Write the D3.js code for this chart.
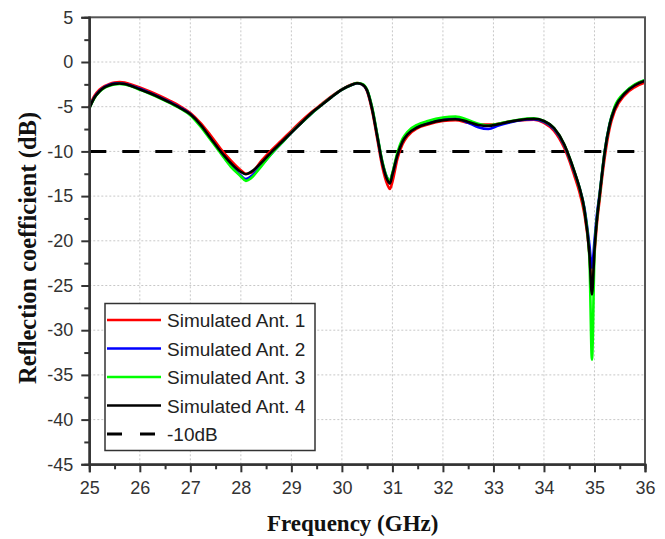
<!DOCTYPE html>
<html>
<head>
<meta charset="utf-8">
<script src="https://cdn.jsdelivr.net/npm/d3@7"></script>
<style>
  body { margin: 0; background: #fff; }
  svg { display: block; }
</style>
</head>
<body>
<svg id="chart" width="665" height="539"></svg>
<script>
// frequency points (GHz)
var freqs = [25.0,25.1,25.2,25.3,25.4,25.5,25.6,25.7,25.8,
  26.0,26.2,26.4,26.6,26.8,27.0,27.2,27.4,27.6,27.8,
  28.0,28.1,28.2,
  28.4,28.6,28.8,29.0,29.2,29.4,29.6,29.8,30.0,30.2,
  30.3,30.4,30.5,30.6,30.7,30.8,30.9,30.95,31.0,
  31.1,31.2,31.3,31.5,31.7,32.0,32.25,32.5,32.7,32.9,
  33.1,33.3,33.5,33.8,34.0,34.2,34.4,34.5,34.6,34.7,
  34.8,34.9,34.95,35.0,35.05,35.1,35.15,35.2,35.3,35.4,
  35.6,35.8,36.0];

var ant1 = [-5.0,-3.8,-3.1,-2.7,-2.45,-2.3,-2.25,-2.3,-2.45,
  -2.85,-3.3,-3.8,-4.35,-4.95,-5.7,-6.8,-8.2,-9.7,-11.0,
  -12.1,-12.5,-12.4,
  -11.1,-9.9,-8.8,-7.7,-6.6,-5.6,-4.7,-3.8,-3.05,-2.5,
  -2.35,-2.5,-3.3,-5.5,-8.6,-11.7,-13.7,-14.2,-13.4,
  -10.8,-9.2,-8.3,-7.4,-7.0,-6.6,-6.5,-6.8,-7.0,-7.0,
  -6.9,-6.7,-6.55,-6.45,-6.8,-7.7,-9.6,-11.0,-12.7,-14.5,
  -17.0,-21.5,-25.5,-21.5,-18.0,-15.5,-13.0,-10.8,-7.4,-5.5,
  -3.7,-2.8,-2.3];

var ant2 = [-5.15,-3.95,-3.25,-2.8,-2.55,-2.42,-2.38,-2.45,-2.6,
  -3.0,-3.45,-3.95,-4.5,-5.1,-5.85,-7.1,-8.6,-10.1,-11.6,
  -12.7,-13.1,-12.8,
  -11.6,-10.3,-9.1,-7.9,-6.8,-5.75,-4.8,-3.9,-3.1,-2.55,
  -2.37,-2.5,-3.2,-5.2,-8.2,-11.2,-13.0,-13.3,-12.5,
  -10.3,-8.8,-8.0,-7.2,-6.8,-6.4,-6.3,-6.8,-7.3,-7.5,
  -7.1,-6.8,-6.55,-6.4,-6.7,-7.5,-9.3,-10.7,-12.3,-14.0,
  -16.3,-20.5,-23.0,-20.0,-17.0,-14.8,-12.4,-10.1,-6.9,-5.1,
  -3.45,-2.55,-2.05];

var ant3 = [-5.2,-4.05,-3.35,-2.9,-2.65,-2.5,-2.45,-2.52,-2.67,
  -3.1,-3.55,-4.05,-4.6,-5.2,-5.95,-7.2,-8.7,-10.2,-11.7,
  -12.8,-13.3,-13.0,
  -11.7,-10.3,-9.1,-7.9,-6.8,-5.75,-4.8,-3.9,-3.1,-2.55,
  -2.35,-2.45,-3.1,-5.1,-8.1,-11.1,-13.0,-13.3,-12.4,
  -10.1,-8.6,-7.8,-7.0,-6.6,-6.2,-6.1,-6.5,-6.9,-7.1,
  -6.9,-6.65,-6.45,-6.3,-6.6,-7.4,-9.2,-10.6,-12.2,-14.0,
  -16.5,-22.0,-33.3,-21.5,-17.5,-15.0,-12.4,-10.1,-6.9,-5.0,
  -3.4,-2.5,-2.0];

var ant4 = [-5.2,-4.0,-3.3,-2.85,-2.6,-2.45,-2.4,-2.47,-2.62,
  -3.05,-3.5,-4.0,-4.55,-5.15,-5.85,-7.0,-8.5,-10.0,-11.3,
  -12.3,-12.55,-12.3,
  -11.3,-10.1,-9.0,-7.9,-6.8,-5.7,-4.8,-3.9,-3.1,-2.55,
  -2.37,-2.5,-3.2,-5.3,-8.3,-11.3,-13.2,-13.6,-12.6,
  -10.4,-8.9,-8.1,-7.3,-6.9,-6.5,-6.4,-6.7,-7.05,-7.15,
  -6.95,-6.7,-6.5,-6.35,-6.6,-7.4,-9.2,-10.6,-12.2,-14.0,
  -16.5,-21.5,-26.0,-21.0,-17.5,-15.0,-12.5,-10.2,-7.0,-5.2,
  -3.5,-2.6,-2.1];

var seriesNames = ["Simulated Ant. 1","Simulated Ant. 2","Simulated Ant. 3","Simulated Ant. 4"];
var seriesColors = ["#ff0000","#0000ff","#00ff00","#000000"];
var seriesValues = [ant1, ant2, ant3, ant4];
var refLevel = -10;
var refName = "-10dB";

var xTicks = [25,26,27,28,29,30,31,32,33,34,35,36];
var yTicks = [5,0,-5,-10,-15,-20,-25,-30,-35,-40,-45];

var margin = {left: 89.3, top: 17.3, right: 665 - 645, bottom: 539 - 464.3};
var W = 665, H = 539;

var svg = d3.select("#chart");

var x = d3.scaleLinear().domain([25, 36]).range([margin.left, W - margin.right]);
var y = d3.scaleLinear().domain([-45, 5]).range([H - margin.bottom, margin.top]);

// plain hyphen for negatives, like the original
var fmt = function(d){ return String(d); };

// grid
var grid = svg.append("g");
grid.selectAll("line.gx").data(xTicks.slice(1, -1)).enter().append("line")
  .attr("x1", function(d){ return x(d); }).attr("x2", function(d){ return x(d); })
  .attr("y1", y(-45)).attr("y2", y(5))
  .attr("stroke", "#c8c8c8").attr("stroke-width", 1).attr("stroke-dasharray", "2,2");
grid.selectAll("line.gy").data(yTicks.slice(1, -1)).enter().append("line")
  .attr("y1", function(d){ return y(d); }).attr("y2", function(d){ return y(d); })
  .attr("x1", x(25)).attr("x2", x(36))
  .attr("stroke", "#c8c8c8").attr("stroke-width", 1).attr("stroke-dasharray", "2,2");

// -10 dB reference
svg.append("line")
  .attr("x1", x(25)).attr("x2", x(36))
  .attr("y1", y(refLevel)).attr("y2", y(refLevel))
  .attr("stroke", "#000").attr("stroke-width", 3).attr("stroke-dasharray", "17,16");

// curves
var line = d3.line()
  .x(function(d){ return x(d[0]); })
  .y(function(d){ return y(d[1]); })
  .curve(d3.curveMonotoneX);

seriesValues.forEach(function(vals, i){
  var pts = freqs.map(function(f, j){ return [f, vals[j]]; });
  svg.append("path")
    .datum(pts)
    .attr("d", line)
    .attr("fill", "none")
    .attr("stroke", seriesColors[i])
    .attr("stroke-width", 2.6)
    .attr("stroke-linejoin", "round");
});

// frame (top and right)
svg.append("rect")
  .attr("x", x(25)).attr("y", y(5))
  .attr("width", x(36) - x(25)).attr("height", y(-45) - y(5))
  .attr("fill", "none").attr("stroke", "#555").attr("stroke-width", 2);

// axes
var xAxis = svg.append("g")
  .attr("transform", "translate(0," + y(-45) + ")")
  .call(d3.axisBottom(x).tickValues(xTicks).tickFormat(fmt).tickSize(8).tickPadding(9));
var xMinor = svg.append("g")
  .attr("transform", "translate(0," + y(-45) + ")")
  .call(d3.axisBottom(x).tickValues(d3.range(25.5, 36, 1)).tickFormat("").tickSize(5));

var yAxis = svg.append("g")
  .attr("transform", "translate(" + x(25) + ",0)")
  .call(d3.axisLeft(y).tickValues(yTicks).tickFormat(fmt).tickSize(8).tickPadding(8));
var yMinor = svg.append("g")
  .attr("transform", "translate(" + x(25) + ",0)")
  .call(d3.axisLeft(y).tickValues(d3.range(2.5, -45, -5)).tickFormat("").tickSize(5));

[xAxis, xMinor, yAxis, yMinor].forEach(function(g){
  g.select(".domain").attr("stroke", "#333").attr("stroke-width", 2);
  g.selectAll(".tick line").attr("stroke", "#333").attr("stroke-width", 2);
  g.selectAll(".tick text")
    .attr("fill", "#333")
    .style("font-family", "'Liberation Sans', Arial, sans-serif")
    .style("font-size", "18px");
});

// axis titles
svg.append("text")
  .attr("x", 267).attr("y", 531)
  .attr("font-family", "'Liberation Serif', 'Times New Roman', serif")
  .attr("font-weight", "bold").attr("font-size", 23)
  .attr("fill", "#111")
  .text("Frequency (GHz)");

svg.append("text")
  .attr("transform", "translate(36,248) rotate(-90)")
  .attr("text-anchor", "middle")
  .attr("font-family", "'Liberation Serif', 'Times New Roman', serif")
  .attr("font-weight", "bold").attr("font-size", 24.5)
  .attr("fill", "#111")
  .text("Reflection coefficient (dB)");

// legend
var legend = svg.append("g");
legend.append("rect")
  .attr("x", 105).attr("y", 303.5).attr("width", 210).attr("height", 147)
  .attr("fill", "#fff").attr("stroke", "#333").attr("stroke-width", 1.5);

var legendItems = seriesNames.map(function(n, i){
  return {name: n, color: seriesColors[i], dash: null};
}).concat([{name: refName, color: "#000", dash: "15,18"}]);

var rows = legend.selectAll("g.item").data(legendItems).enter().append("g")
  .attr("transform", function(d, i){ return "translate(0," + (320 + i * 28.5) + ")"; });
rows.append("line")
  .attr("x1", 107).attr("x2", 161).attr("y1", 0).attr("y2", 0)
  .attr("stroke", function(d){ return d.color; })
  .attr("stroke-width", function(d){ return d.dash ? 3 : 2.6; })
  .attr("stroke-dasharray", function(d){ return d.dash; });
rows.append("text")
  .attr("x", 167).attr("y", 7)
  .attr("font-family", "'Liberation Sans', Arial, sans-serif")
  .attr("font-size", 19)
  .attr("fill", "#222")
  .text(function(d){ return d.name; });
</script>
</body>
</html>
